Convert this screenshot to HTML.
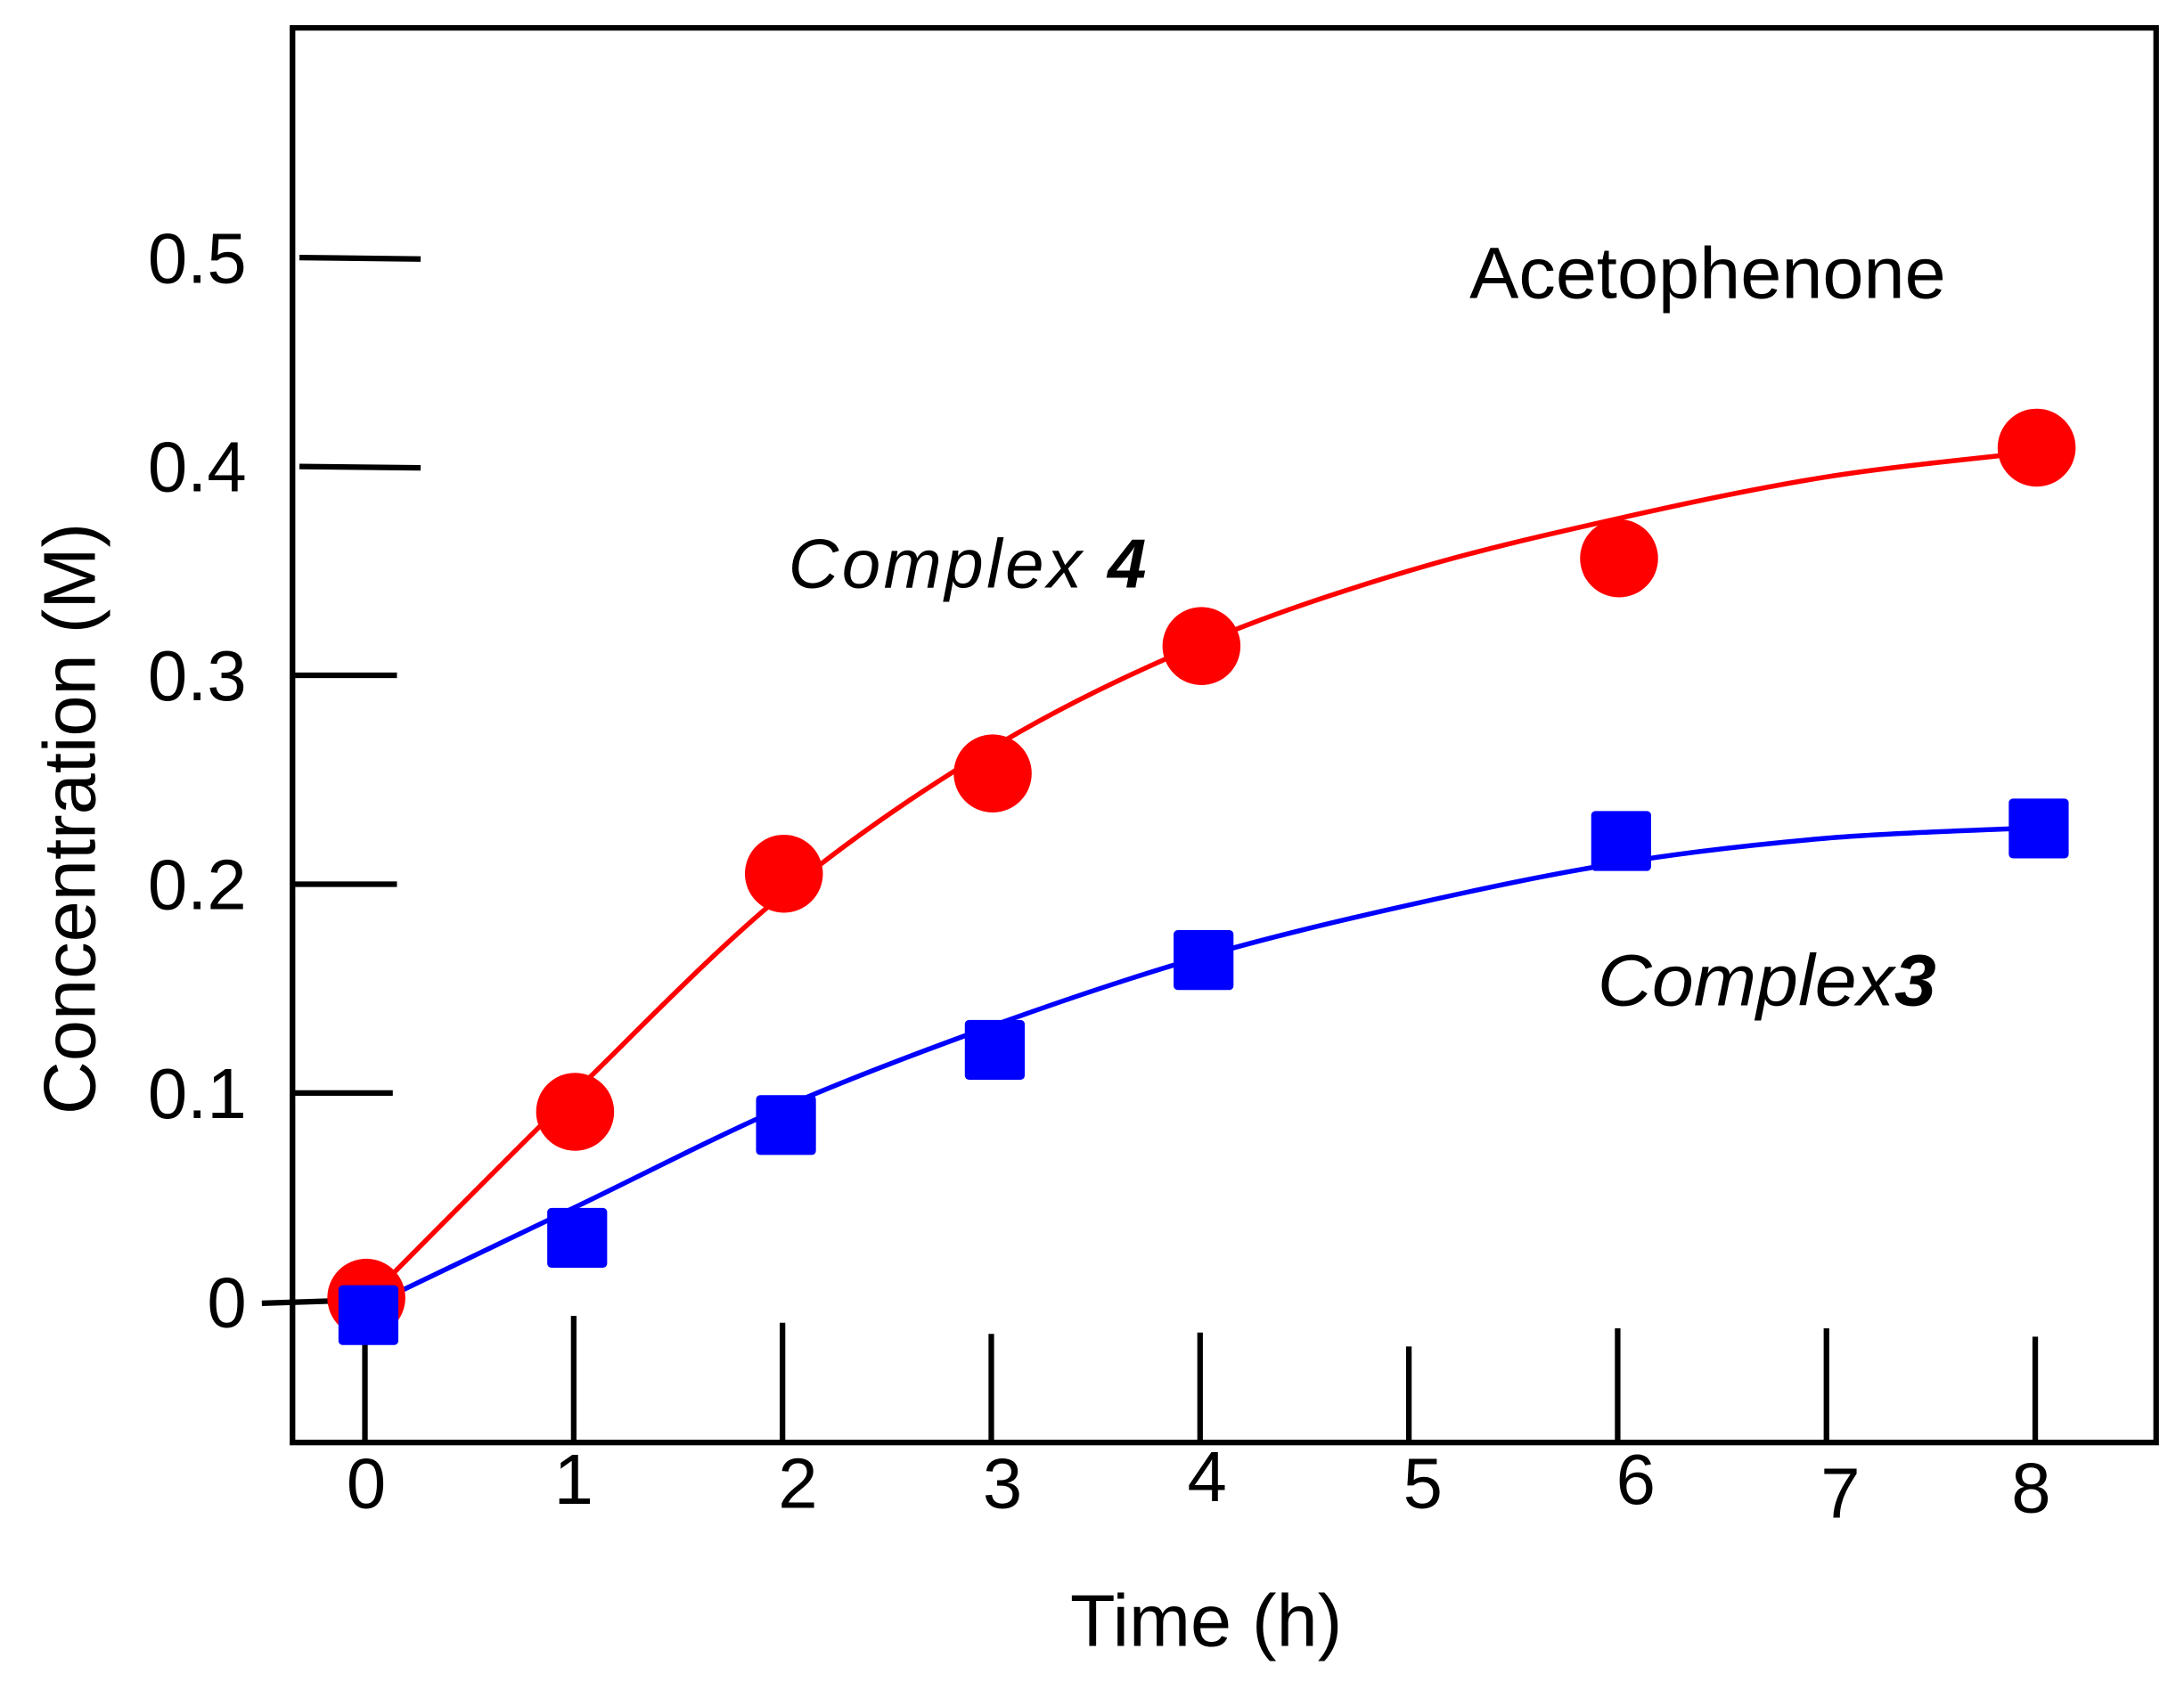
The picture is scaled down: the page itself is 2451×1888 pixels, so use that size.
<!DOCTYPE html>
<html><head><meta charset="utf-8"><style>
html,body{margin:0;padding:0;background:#fff;}
svg{display:block;}
text{font-family:"Liberation Sans",sans-serif;fill:#000;}
</style></head><body>
<svg id="chart" width="2451" height="1888" viewBox="0 0 1568 1208" preserveAspectRatio="none" xmlns="http://www.w3.org/2000/svg">
<rect x="210" y="20" width="1338" height="1016" fill="none" stroke="#000" stroke-width="4"/>
<g id="yticks"></g>
<g id="xticks"></g>
<g id="fits"></g>
<g id="marks"></g>
<text transform="translate(68,588) rotate(-90)" text-anchor="middle" font-size="53" textLength="425" lengthAdjust="spacingAndGlyphs">Concentration (M)</text>
<text x="866" y="1182" text-anchor="middle" font-size="53">Time (h)</text>
<text x="1055" y="214" font-size="52" textLength="342" lengthAdjust="spacingAndGlyphs">Acetophenone</text>
<text x="566" y="422" font-size="50" font-style="italic" textLength="257">Complex <tspan font-weight="bold">4</tspan></text>
<text x="1147" y="722" font-size="52" font-style="italic" textLength="243" lengthAdjust="spacingAndGlyphs">Complex<tspan font-weight="bold">3</tspan></text>
</svg>
<script>
const yTickValues=[0,0.1,0.2,0.3,0.4,0.5];
const yTickLabels=["0","0.1","0.2","0.3","0.4","0.5"];
const xTickValues=[0,1,2,3,4,5,6,7,8];
const xTickLabels=["0","1","2","3","4","5","6","7","8"];
const timesMeasured=[0,1,2,3,4,6,8];
const complex4Values=[0.002,0.091,0.205,0.253,0.314,0.356,0.409];
const complex3Values=[-0.006,0.031,0.085,0.121,0.164,0.221,0.227];
const fitTimes=[0,1,2,3,4,5,6,7,8];
const complex4Fit=[0,0.1,0.195,0.265,0.315,0.35,0.375,0.395,0.407];
const complex3Fit=[-0.003,0.045,0.093,0.132,0.165,0.19,0.21,0.222,0.227];

const NS="http://www.w3.org/2000/svg";
const X=t=>262+t*149.9;
const Y=v=>935-v*1500;
function mk(tag,attrs,parent){const e=document.createElementNS(NS,tag);for(const k in attrs)e.setAttribute(k,attrs[k]);parent.appendChild(e);return e;}
const yg=document.getElementById('yticks'),xg=document.getElementById('xticks'),fg=document.getElementById('fits'),mg=document.getElementById('marks');
const yLen=[69,72,75,75,92,92];
yTickValues.forEach((v,i)=>{
 const l=mk('line',{x1:215-(i==0?22:0)-(i>=4?0:5),y1:Y(v)+(i==0?1:0),x2:210+yLen[i],y2:Y(v)+(i>=4?1:0)-(i==0?2:0),stroke:'#000','stroke-width':4},yg);
 
 
 const t=mk('text',{x:177,y:Y(v)+18,'text-anchor':'end','font-size':51},yg);t.textContent=yTickLabels[i];
 
 
});
const xTop=[965,945,950,958,957,967,954,954,960];
const xLabelDx=[1,0,11,8,5,10,13,10,-3];
const xLabelDy=[0,-3,0,0,-5,0,-3,7,3];
xTickValues.forEach((v,i)=>{
 const l=mk('line',{x1:X(v),y1:xTop[i],x2:X(v),y2:1036,stroke:'#000','stroke-width':4},xg);
 
 
 const t=mk('text',{x:X(v)+xLabelDx[i],y:1083+xLabelDy[i],'text-anchor':'middle','font-size':51},xg);t.textContent=xTickLabels[i];
 
 
});
function smooth(ts,vs){
 const p=ts.map((t,i)=>[X(t),Y(vs[i])]);let d='M'+p[0][0]+','+p[0][1];
 for(let i=0;i<p.length-1;i++){const p0=p[Math.max(0,i-1)],p1=p[i],p2=p[i+1],p3=p[Math.min(p.length-1,i+2)];
  d+=' C'+(p1[0]+(p2[0]-p0[0])/6)+','+(p1[1]+(p2[1]-p0[1])/6)+' '+(p2[0]-(p3[0]-p1[0])/6)+','+(p2[1]-(p3[1]-p1[1])/6)+' '+p2[0]+','+p2[1];}
 return d;}
const f4=mk('path',{d:smooth(fitTimes,complex4Fit),fill:'none',stroke:'#ff0000','stroke-width':3.5},fg);


const f3=mk('path',{d:smooth(fitTimes,complex3Fit),fill:'none',stroke:'#0000ff','stroke-width':3.5},fg);


timesMeasured.forEach((t,i)=>{
 const c=mk('circle',{cx:X(t)+1,cy:Y(complex4Values[i]),r:28,fill:'#ff0000'},mg);
 
 
});
timesMeasured.forEach((t,i)=>{
 const s=mk('rect',{x:X(t)+2-21,y:Y(complex3Values[i])-21,width:43,height:43,rx:3,fill:'#0000ff'},mg);
 
 
});
</script>
</body></html>
